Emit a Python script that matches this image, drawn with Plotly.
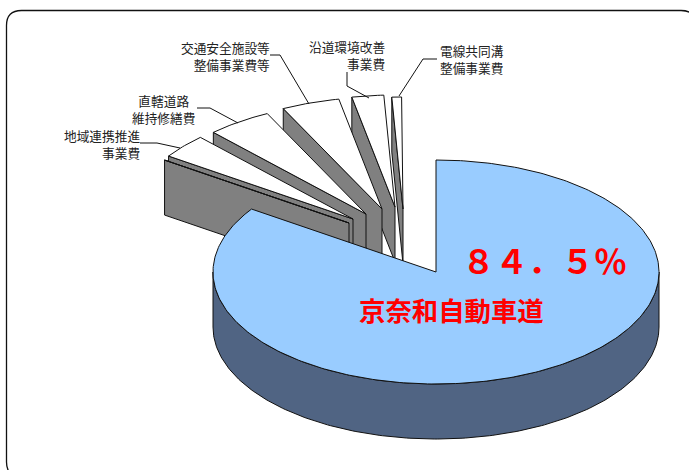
import math
import plotly.graph_objects as go

# Road-budget shares (percent), clockwise from 12 o'clock.
main_name = "京奈和自動車道"
main_share = 84.5
main_label = "８４．５％"

# Minor items in clockwise order, starting right after the main slice.
minor_names = ["", "地域連携推進<br>事業費", "直轄道路<br>維持修繕費", "交通安全施設等<br>整備事業費等", "沿道環境改善<br>事業費", "電線共同溝<br>整備事業費"]
minor_shares = [0.0, 3.5, 4.7, 4.2, 2.3, 0.7]

# Pie projection, in page pixels.
CX, CY = 436.0, 272.0
RX, RY = 223.0, 112.0
DEPTH = 55.0
# Pulled-out slice tips (each slice is exploded by hand).
tip_x = [349, 353, 366, 382, 395, 403]
tip_y = [223, 219, 214, 209, 207, 209]

TOP_MAIN = "#99CCFF"
WALL_MAIN = "#506483"
TOP_MINOR = "#FFFFFF"
WALL_MINOR = "#808080"
EDGE = "#111111"


def rim(ax, ay, pct_from, pct_to):
    """Points of the elliptical rim between two cumulative percentages."""
    n = max(2, int(abs(pct_to - pct_from) * 4) + 2)
    xs, ys = [], []
    for i in range(n):
        a = math.radians((pct_from + (pct_to - pct_from) * i / (n - 1)) * 3.6)
        xs.append(ax + RX * math.sin(a))
        ys.append(ay - RY * math.cos(a))
    return xs, ys


def poly(xs, ys, fill, width=1.0):
    return go.Scatter(
        x=xs + xs[:1], y=ys + ys[:1], mode="lines", fill="toself", fillcolor=fill,
        line=dict(color=EDGE, width=width), hoverinfo="skip", showlegend=False,
    )


fig = go.Figure()

# Minor slices, painted right to left so each overlaps its clockwise neighbour.
bounds = [main_share]
for s in minor_shares:
    bounds.append(bounds[-1] + s)

for i in reversed(range(len(minor_shares))):
    ax, ay = tip_x[i], tip_y[i]
    rx, ry = rim(ax, ay, bounds[i], bounds[i + 1])
    fig.add_trace(poly([rx[0], ax, ax, rx[0]], [ry[0], ay, ay + DEPTH, ry[0] + DEPTH], WALL_MINOR))
    fig.add_trace(poly(rx + [ax], ry + [ay], TOP_MINOR))

# Main slice: outer wall, then the top face.
wx, wy = rim(CX, CY, 25, 75)
fig.add_trace(poly(wx + [x for x in reversed(wx)], wy + [y + DEPTH for y in reversed(wy)], WALL_MAIN))
mx, my = rim(CX, CY, 0, main_share)
fig.add_trace(poly(mx + [CX], my + [CY], TOP_MAIN))

# Leader lines from the labels to their slices.
leaders = [
    ([140, 157, 180], [143, 143, 148]),
    ([197, 210, 238], [108, 108, 123]),
    ([270, 280, 309], [55, 55, 104]),
    ([347, 347, 369], [72, 86, 98]),
    ([437, 423, 399], [59, 59, 96]),
]
for lx, ly in leaders:
    fig.add_trace(go.Scatter(x=lx, y=ly, mode="lines", line=dict(color=EDGE, width=1),
                             hoverinfo="skip", showlegend=False))

FONT = "Noto Sans CJK JP"
label_spots = [
    (142, 144, "right", "right"),
    (163, 109, "center", "center"),
    (272, 56, "right", "right"),
    (387, 55, "right", "right"),
    (438, 59, "left", "left"),
]
annotations = [
    dict(x=x, y=y, text=t, showarrow=False, xanchor=anchor, align=al, yanchor="middle",
         font=dict(family=FONT, size=12.7, color="#222222"))
    for t, (x, y, anchor, al) in zip(minor_names[1:], label_spots)
]
annotations.append(dict(x=544, y=260, text=main_label, showarrow=False, xanchor="center", yanchor="middle",
                        font=dict(family=FONT, size=33, color="#FF0000", weight=700)))
annotations.append(dict(x=451, y=309, text=f"<b>{main_name}</b>", showarrow=False, xanchor="center", yanchor="middle",
                        font=dict(family=FONT, size=26.4, color="#FF0000")))

# Rounded outer frame; its right and bottom sides run off the page.
x0, y0, x1, y1, r = 6.5, 10.5, 696, 477, 15
frame = (f"M{x0 + r},{y0} L{x1 - r},{y0} Q{x1},{y0} {x1},{y0 + r} L{x1},{y1 - r} Q{x1},{y1} {x1 - r},{y1} "
         f"L{x0 + r},{y1} Q{x0},{y1} {x0},{y1 - r} L{x0},{y0 + r} Q{x0},{y0} {x0 + r},{y0} Z")

fig.update_layout(
    width=689, height=470, margin=dict(l=0, r=0, t=0, b=0),
    paper_bgcolor="white", plot_bgcolor="white", showlegend=False,
    xaxis=dict(range=[0, 689], visible=False, fixedrange=True),
    yaxis=dict(range=[470, 0], visible=False, fixedrange=True),
    annotations=annotations,
    shapes=[dict(type="path", path=frame, xref="x", yref="y", line=dict(color="#111111", width=1.3), layer="below")],
)

fig.write_html("out.html", config={"displayModeBar": False})
